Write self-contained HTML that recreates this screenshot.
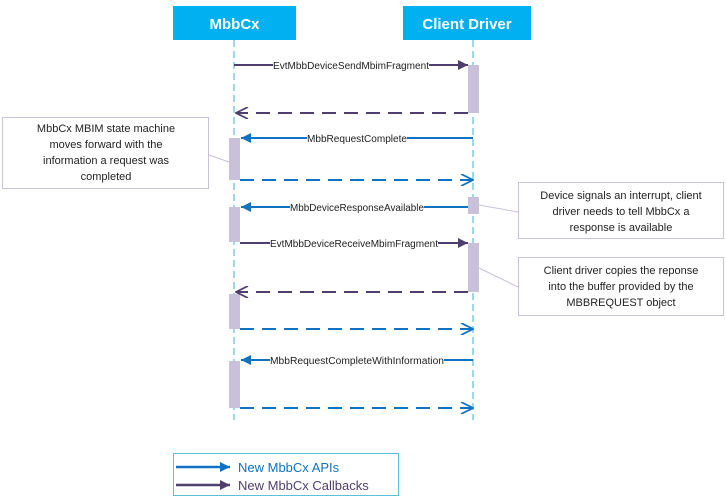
<!DOCTYPE html>
<html><head><meta charset="utf-8"><style>
html,body{margin:0;padding:0;background:#fff;}
svg{display:block;font-family:"Liberation Sans",sans-serif;}
.lbl{font-size:10px;fill:#222;}
.note{font-size:11px;fill:#222;}
</style></head><body>
<svg width="726" height="500" viewBox="0 0 726 500" xmlns="http://www.w3.org/2000/svg">
<defs>
<marker id="bA" viewBox="0 0 10 10" refX="10" refY="5" markerWidth="16" markerHeight="10" markerUnits="userSpaceOnUse" orient="auto-start-reverse"><path d="M0,0 L10,5 L0,10 z" fill="#1072c2"/></marker>
<marker id="pA" viewBox="0 0 10 10" refX="10" refY="5" markerWidth="16" markerHeight="10" markerUnits="userSpaceOnUse" orient="auto-start-reverse"><path d="M0,0 L10,5 L0,10 z" fill="#4f3f6e"/></marker>
<marker id="bO" viewBox="0 0 10 10" refX="10" refY="5" markerWidth="14" markerHeight="12" markerUnits="userSpaceOnUse" orient="auto-start-reverse"><path d="M0,0 L10,5 L0,10" fill="none" stroke="#1072c2" stroke-width="1.5"/></marker>
<marker id="pO" viewBox="0 0 10 10" refX="10" refY="5" markerWidth="14" markerHeight="12" markerUnits="userSpaceOnUse" orient="auto-start-reverse"><path d="M0,0 L10,5 L0,10" fill="none" stroke="#4f3f6e" stroke-width="1.5"/></marker>
</defs>
<rect x="173" y="6" width="123" height="34" fill="#00b0f0"/>
<text x="234.5" y="29" font-size="15" font-weight="bold" fill="#fff" text-anchor="middle">MbbCx</text>
<rect x="403" y="6" width="128" height="34" fill="#00b0f0"/>
<text x="467" y="29" font-size="15" font-weight="bold" fill="#fff" text-anchor="middle">Client Driver</text>
<line x1="234" y1="40" x2="234" y2="420" stroke="#5bc0d8" stroke-width="1.2" stroke-dasharray="7,4"/>
<line x1="473" y1="40" x2="473" y2="420" stroke="#5bc0d8" stroke-width="1.2" stroke-dasharray="7,4"/>
<g fill="#c9c0d9">
<rect x="468" y="65" width="11" height="48"/>
<rect x="229" y="138" width="11" height="42"/>
<rect x="468" y="197" width="11" height="17"/>
<rect x="229" y="207" width="11" height="35"/>
<rect x="468" y="243" width="11" height="49"/>
<rect x="229" y="294" width="11" height="35"/>
<rect x="229" y="361" width="11" height="47"/>
</g>
<line x1="234" y1="65" x2="468" y2="65" stroke="#4f3f6e" stroke-width="2" marker-end="url(#pA)"/>
<line x1="468" y1="113" x2="236" y2="113" stroke="#4f3f6e" stroke-width="2" stroke-dasharray="14,8" marker-end="url(#pO)"/>
<line x1="473" y1="138" x2="241" y2="138" stroke="#1072c2" stroke-width="2" marker-end="url(#bA)"/>
<line x1="240" y1="180" x2="473" y2="180" stroke="#1072c2" stroke-width="2" stroke-dasharray="14,8" marker-end="url(#bO)"/>
<line x1="468" y1="207" x2="241" y2="207" stroke="#1072c2" stroke-width="2" marker-end="url(#bA)"/>
<line x1="240" y1="243" x2="468" y2="243" stroke="#4f3f6e" stroke-width="2" marker-end="url(#pA)"/>
<line x1="468" y1="292" x2="236" y2="292" stroke="#4f3f6e" stroke-width="2" stroke-dasharray="14,8" marker-end="url(#pO)"/>
<line x1="240" y1="329" x2="473" y2="329" stroke="#1072c2" stroke-width="2" stroke-dasharray="14,8" marker-end="url(#bO)"/>
<line x1="473" y1="360" x2="241" y2="360" stroke="#1072c2" stroke-width="2" marker-end="url(#bA)"/>
<line x1="240" y1="408" x2="473" y2="408" stroke="#1072c2" stroke-width="2" stroke-dasharray="14,8" marker-end="url(#bO)"/>
<g class="lbl">
<rect x="273" y="59" width="156" height="11" fill="#fff"/><text x="273" y="69" textLength="156" lengthAdjust="spacingAndGlyphs">EvtMbbDeviceSendMbimFragment</text>
<rect x="307" y="132" width="100" height="11" fill="#fff"/><text x="307" y="142" textLength="100" lengthAdjust="spacingAndGlyphs">MbbRequestComplete</text>
<rect x="290" y="201" width="134" height="11" fill="#fff"/><text x="290" y="211" textLength="134" lengthAdjust="spacingAndGlyphs">MbbDeviceResponseAvailable</text>
<rect x="270" y="237" width="168" height="11" fill="#fff"/><text x="270" y="247" textLength="168" lengthAdjust="spacingAndGlyphs">EvtMbbDeviceReceiveMbimFragment</text>
<rect x="270" y="354" width="174" height="11" fill="#fff"/><text x="270" y="364" textLength="174" lengthAdjust="spacingAndGlyphs">MbbRequestCompleteWithInformation</text>
</g>
<line x1="209" y1="155" x2="229" y2="162" stroke="#c9c0d9"/>
<line x1="479" y1="205" x2="518" y2="212" stroke="#c9c0d9"/>
<line x1="479" y1="268" x2="518" y2="287" stroke="#c9c0d9"/>
<rect x="2.5" y="117.5" width="206" height="71" fill="#fff" stroke="#c9c0d9"/>
<g class="note" text-anchor="middle">
<text x="106" y="132">MbbCx MBIM state machine</text>
<text x="106" y="148">moves forward with the</text>
<text x="106" y="164">information a request was</text>
<text x="106" y="180">completed</text>
</g>
<rect x="518.5" y="182.5" width="205" height="56" fill="#fff" stroke="#c9c0d9"/>
<g class="note" text-anchor="middle">
<text x="621" y="199">Device signals an interrupt, client</text>
<text x="621" y="215">driver needs to tell MbbCx a</text>
<text x="621" y="231">response is available</text>
</g>
<rect x="518.5" y="257.5" width="205" height="58" fill="#fff" stroke="#c9c0d9"/>
<g class="note" text-anchor="middle">
<text x="621" y="274">Client driver copies the reponse</text>
<text x="621" y="290">into the buffer provided by the</text>
<text x="621" y="306">MBBREQUEST object</text>
</g>
<rect x="173.5" y="453.5" width="225" height="42" fill="#fff" stroke="#5bc0d8"/>
<line x1="176" y1="467" x2="230" y2="467" stroke="#1072c2" stroke-width="2.5" marker-end="url(#bA)"/>
<line x1="176" y1="485" x2="230" y2="485" stroke="#4f3f6e" stroke-width="2.5" marker-end="url(#pA)"/>
<text x="238" y="472" font-size="13" fill="#1072c2">New MbbCx APIs</text>
<text x="238" y="490" font-size="13" fill="#4f3f6e">New MbbCx Callbacks</text>
</svg>
</body></html>
